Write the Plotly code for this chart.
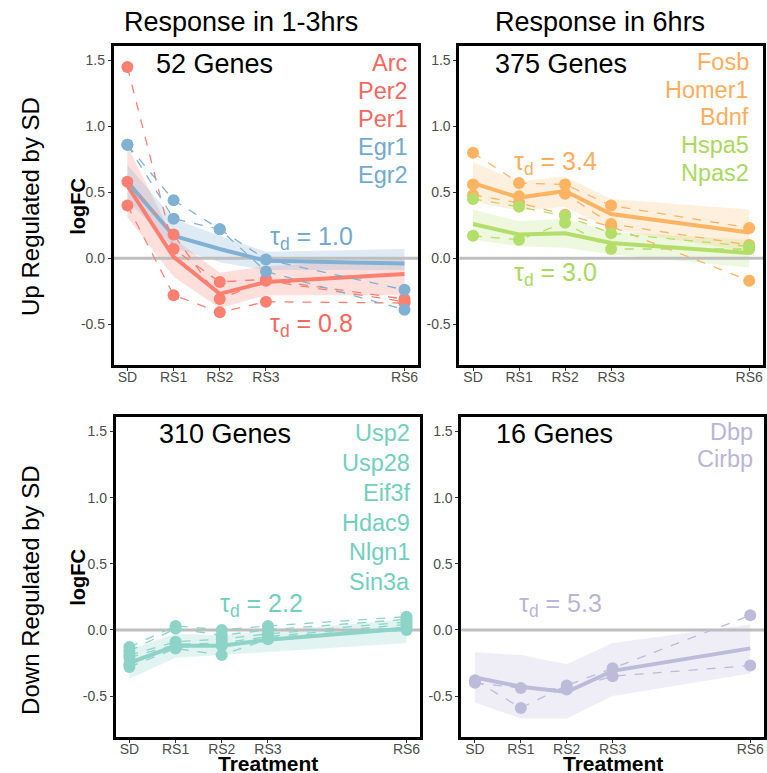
import plotly.graph_objects as go

# ---------------- data ----------------
times = [0, 1, 2, 3, 6]
time_labels = ["SD", "RS1", "RS2", "RS3", "RS6"]

# Panel A: up-regulated, response in 1-3 hrs
a_red_mean = [0.55, 0.01, -0.27, -0.18, -0.12]
a_red_lo = [0.31, -0.14, -0.38, -0.28, -0.28]
a_red_hi = [0.85, 0.15, -0.11, -0.06, 0.00]
a_blue_mean = [0.58, 0.17, 0.07, -0.02, -0.04]
a_blue_lo = [0.44, 0.08, -0.03, -0.09, -0.09]
a_blue_hi = [0.71, 0.30, 0.17, 0.05, 0.07]
a_genes = ["Arc", "Per2", "Per1", "Egr1", "Egr2"]
a_gene_vals = {
    "Arc": [1.45, 0.07, -0.18, -0.16, -0.31],
    "Per2": [0.58, 0.18, -0.31, -0.17, -0.33],
    "Per1": [0.40, -0.28, -0.41, -0.33, -0.34],
    "Egr1": [0.86, 0.44, 0.22, -0.01, -0.24],
    "Egr2": [0.86, 0.30, 0.22, -0.10, -0.39],
}
a_gene_group = {"Arc": "red", "Per2": "red", "Per1": "red", "Egr1": "blue", "Egr2": "blue"}

# Panel B: up-regulated, response in 6 hrs
b_orange_mean = [0.57, 0.46, 0.51, 0.335, 0.195]
b_orange_lo = [0.43, 0.36, 0.39, 0.22, 0.05]
b_orange_hi = [0.73, 0.58, 0.62, 0.45, 0.37]
b_green_mean = [0.26, 0.18, 0.19, 0.115, 0.04]
b_green_lo = [0.14, 0.09, 0.08, 0.03, -0.07]
b_green_hi = [0.37, 0.28, 0.30, 0.20, 0.14]
b_genes = ["Fosb", "Homer1", "Bdnf", "Hspa5", "Npas2"]
b_gene_vals = {
    "Fosb": [0.80, 0.57, 0.56, 0.40, 0.23],
    "Homer1": [0.56, 0.47, 0.49, 0.26, 0.10],
    "Bdnf": [0.48, 0.42, 0.33, 0.24, -0.17],
    "Hspa5": [0.45, 0.39, 0.32, 0.19, 0.09],
    "Npas2": [0.17, 0.14, 0.27, 0.07, 0.07],
}
b_gene_group = {"Fosb": "orange", "Homer1": "orange", "Bdnf": "orange", "Hspa5": "green", "Npas2": "green"}

# Panel C: down-regulated (310 genes)
c_mean = [-0.25, -0.12, -0.12, -0.075, 0.01]
c_lo = [-0.37, -0.21, -0.19, -0.17, -0.10]
c_hi = [-0.15, -0.03, -0.04, -0.01, 0.08]
c_genes = ["Usp2", "Usp28", "Eif3f", "Hdac9", "Nlgn1", "Sin3a"]
c_gene_vals = {
    "Usp2": [-0.13, 0.03, 0.00, 0.03, 0.10],
    "Usp28": [-0.16, 0.01, -0.04, 0.00, 0.08],
    "Eif3f": [-0.19, -0.09, -0.07, -0.03, 0.06],
    "Hdac9": [-0.21, -0.11, -0.10, -0.05, 0.04],
    "Nlgn1": [-0.26, -0.13, -0.12, -0.06, 0.02],
    "Sin3a": [-0.28, -0.14, -0.19, -0.07, 0.00],
}

# Panel D: down-regulated (16 genes)
d_mean = [-0.36, -0.43, -0.47, -0.31, -0.14]
d_lo = [-0.55, -0.67, -0.67, -0.50, -0.33]
d_hi = [-0.17, -0.19, -0.26, -0.10, 0.04]
d_genes = ["Dbp", "Cirbp"]
d_gene_vals = {
    "Dbp": [-0.38, -0.59, -0.42, -0.29, 0.11],
    "Cirbp": [-0.40, -0.44, -0.45, -0.35, -0.27],
}

y_ticks = [-0.5, 0.0, 0.5, 1.0, 1.5]
y_tick_text = ["-0.5", "0.0", "0.5", "1.0", "1.5"]

# ---------------- styles ----------------
COL = {
    "red": "#FB8072", "blue": "#80B1D3", "orange": "#FDB462",
    "green": "#B3DE69", "teal": "#8DD3C7", "purple": "#BEBADA",
}
TXT = {
    "red": "#F8675F", "blue": "#72A9D0", "orange": "#FCAD5C",
    "green": "#A9D95E", "teal": "#72CFBD", "purple": "#B9B5D9",
}
RIB = {
    "red": "rgba(251,128,114,0.25)", "blue": "rgba(128,177,211,0.25)",
    "orange": "rgba(253,180,98,0.22)", "green": "rgba(179,222,105,0.22)",
    "teal": "rgba(141,211,199,0.25)", "purple": "rgba(190,186,218,0.25)",
}
FONT = "Liberation Sans, Arial, Helvetica, sans-serif"
W, H = 767, 773

def px_x(a, b):
    return [max(0, a / W), min(1, b / W)]

def px_y(top, bottom):
    return [max(0, 1 - bottom / H), min(1, 1 - top / H)]

fig = go.Figure()

panels = {
    1: dict(xd=px_x(114, 420), yd=px_y(46, 365)),
    2: dict(xd=px_x(461, 766), yd=px_y(46, 365)),
    3: dict(xd=px_x(116, 422), yd=px_y(417, 737)),
    4: dict(xd=px_x(463, 767), yd=px_y(417, 737)),
}

def ax(i):
    return ("x" if i == 1 else f"x{i}"), ("y" if i == 1 else f"y{i}")

def ribbon(i, lo, hi, key):
    xa, ya = ax(i)
    fig.add_trace(go.Scatter(x=times + times[::-1], y=hi + lo[::-1], fill="toself",
                             fillcolor=RIB[key], line=dict(width=0), mode="lines",
                             hoverinfo="skip", showlegend=False, xaxis=xa, yaxis=ya))

def zero(i):
    xa, ya = ax(i)
    fig.add_trace(go.Scatter(x=[-0.3, 6.3], y=[0, 0], mode="lines",
                             line=dict(color="#BEBEBE", width=3), hoverinfo="skip",
                             showlegend=False, xaxis=xa, yaxis=ya))

def mean_line(i, m, key):
    xa, ya = ax(i)
    fig.add_trace(go.Scatter(x=times, y=m, mode="lines", line=dict(color=COL[key], width=4),
                             showlegend=False, xaxis=xa, yaxis=ya))

def gene_line(i, vals, key, name):
    xa, ya = ax(i)
    fig.add_trace(go.Scatter(x=times, y=vals, mode="lines+markers", name=name,
                             line=dict(color=COL[key], width=1.3, dash="dash"),
                             marker=dict(color=COL[key], size=12),
                             showlegend=False, xaxis=xa, yaxis=ya))

# Panel 1
ribbon(1, a_red_lo, a_red_hi, "red")
ribbon(1, a_blue_lo, a_blue_hi, "blue")
zero(1)
mean_line(1, a_red_mean, "red")
mean_line(1, a_blue_mean, "blue")
for g in a_genes:
    gene_line(1, a_gene_vals[g], a_gene_group[g], g)

# Panel 2
ribbon(2, b_orange_lo, b_orange_hi, "orange")
ribbon(2, b_green_lo, b_green_hi, "green")
zero(2)
mean_line(2, b_orange_mean, "orange")
mean_line(2, b_green_mean, "green")
for g in b_genes:
    gene_line(2, b_gene_vals[g], b_gene_group[g], g)

# Panel 3
ribbon(3, c_lo, c_hi, "teal")
zero(3)
mean_line(3, c_mean, "teal")
for g in c_genes:
    gene_line(3, c_gene_vals[g], "teal", g)

# Panel 4
ribbon(4, d_lo, d_hi, "purple")
zero(4)
mean_line(4, d_mean, "purple")
for g in d_genes:
    gene_line(4, d_gene_vals[g], "purple", g)

# ---------------- axes ----------------
layout = dict(width=W, height=H, margin=dict(l=0, r=0, t=0, b=0),
              paper_bgcolor="white", plot_bgcolor="white",
              font=dict(family=FONT, color="#000000"), showlegend=False)
for i, p in panels.items():
    xk = "xaxis" if i == 1 else f"xaxis{i}"
    yk = "yaxis" if i == 1 else f"yaxis{i}"
    xa, ya = ax(i)
    layout[xk] = dict(domain=p["xd"], anchor=ya, range=[-0.3, 6.3], tickmode="array",
                      tickvals=times, ticktext=time_labels, showgrid=False, zeroline=False,
                      showline=True, linecolor="black", linewidth=2.5, mirror=True,
                      ticks="outside", ticklen=3, tickcolor="#333333",
                      ticklabelstandoff=-6,
                      tickfont=dict(size=14, color="#4D4D4D", family=FONT))
    layout[yk] = dict(domain=p["yd"], anchor=xa, range=[-0.81, 1.61], tickmode="array",
                      tickvals=y_ticks, ticktext=y_tick_text, showgrid=False, zeroline=False,
                      showline=True, linecolor="black", linewidth=2.5, mirror=True,
                      ticks="outside", ticklen=3, tickcolor="#333333",
                      tickfont=dict(size=14, color="#4D4D4D", family=FONT))
fig.update_layout(**layout)

# ---------------- annotations ----------------
def note(i, x, y, text, color, size, xanchor="center"):
    xa, ya = ax(i)
    fig.add_annotation(x=x, y=y, xref=xa, yref=ya, text=text, showarrow=False,
                       xanchor=xanchor, yanchor="middle",
                       font=dict(size=size, color=color, family=FONT))

def paper_note(xp, yp, text, size, angle=0, bold=False):
    fig.add_annotation(x=xp / W, y=1 - yp / H, xref="paper", yref="paper",
                       text=f"<b>{text}</b>" if bold else text, showarrow=False,
                       textangle=angle, xanchor="center", yanchor="middle", borderpad=0,
                       font=dict(size=size, color="black", family=FONT))

note(1, 1.89, 1.47, "52 Genes", "black", 27)
note(2, 1.91, 1.47, "375 Genes", "black", 27)
note(3, 2.06, 1.48, "310 Genes", "black", 27)
note(4, 1.74, 1.48, "16 Genes", "black", 27)

for j, g in enumerate(a_genes):
    note(1, 6.12, 1.478 - 0.212 * j, g, TXT[a_gene_group[g]], 23.5, "right")
for j, g in enumerate(b_genes):
    note(2, 6.05, 1.49 - 0.21 * j, g, TXT[b_gene_group[g]], 23.5, "right")
for j, g in enumerate(c_genes):
    note(3, 6.12, 1.49 - 0.226 * j, g, TXT["teal"], 23.5, "right")
for j, g in enumerate(d_genes):
    note(4, 6.1, 1.498 - 0.206 * j, g, TXT["purple"], 23.5, "right")

tau = "τ<sub>d</sub> = "
note(1, 3.99, 0.15, tau + "1.0", TXT["blue"], 25)
note(1, 3.99, -0.51, tau + "0.8", TXT["red"], 25)
note(2, 1.80, 0.72, tau + "3.4", TXT["orange"], 25)
note(2, 1.80, -0.12, tau + "3.0", TXT["green"], 25)
note(3, 2.85, 0.19, tau + "2.2", TXT["teal"], 25)
note(4, 1.87, 0.19, tau + "5.3", TXT["purple"], 25)

# column titles
paper_note(242, 22, "Response in 1-3hrs", 27)
paper_note(602, 22, "Response in 6hrs", 27)
# row titles
paper_note(30, 206, "Up Regulated by SD", 24, angle=-90)
paper_note(30, 590, "Down Regulated by SD", 24, angle=-90)
# axis titles
paper_note(78, 206, "logFC", 20, angle=-90, bold=True)
paper_note(78, 577, "logFC", 20, angle=-90, bold=True)
paper_note(269, 763, "Treatment", 21, bold=True)
paper_note(615, 763, "Treatment", 21, bold=True)

fig.write_html("out.html", config={"displayModeBar": False},
               post_script="document.body.style.margin='0px';document.body.style.padding='0px';")
